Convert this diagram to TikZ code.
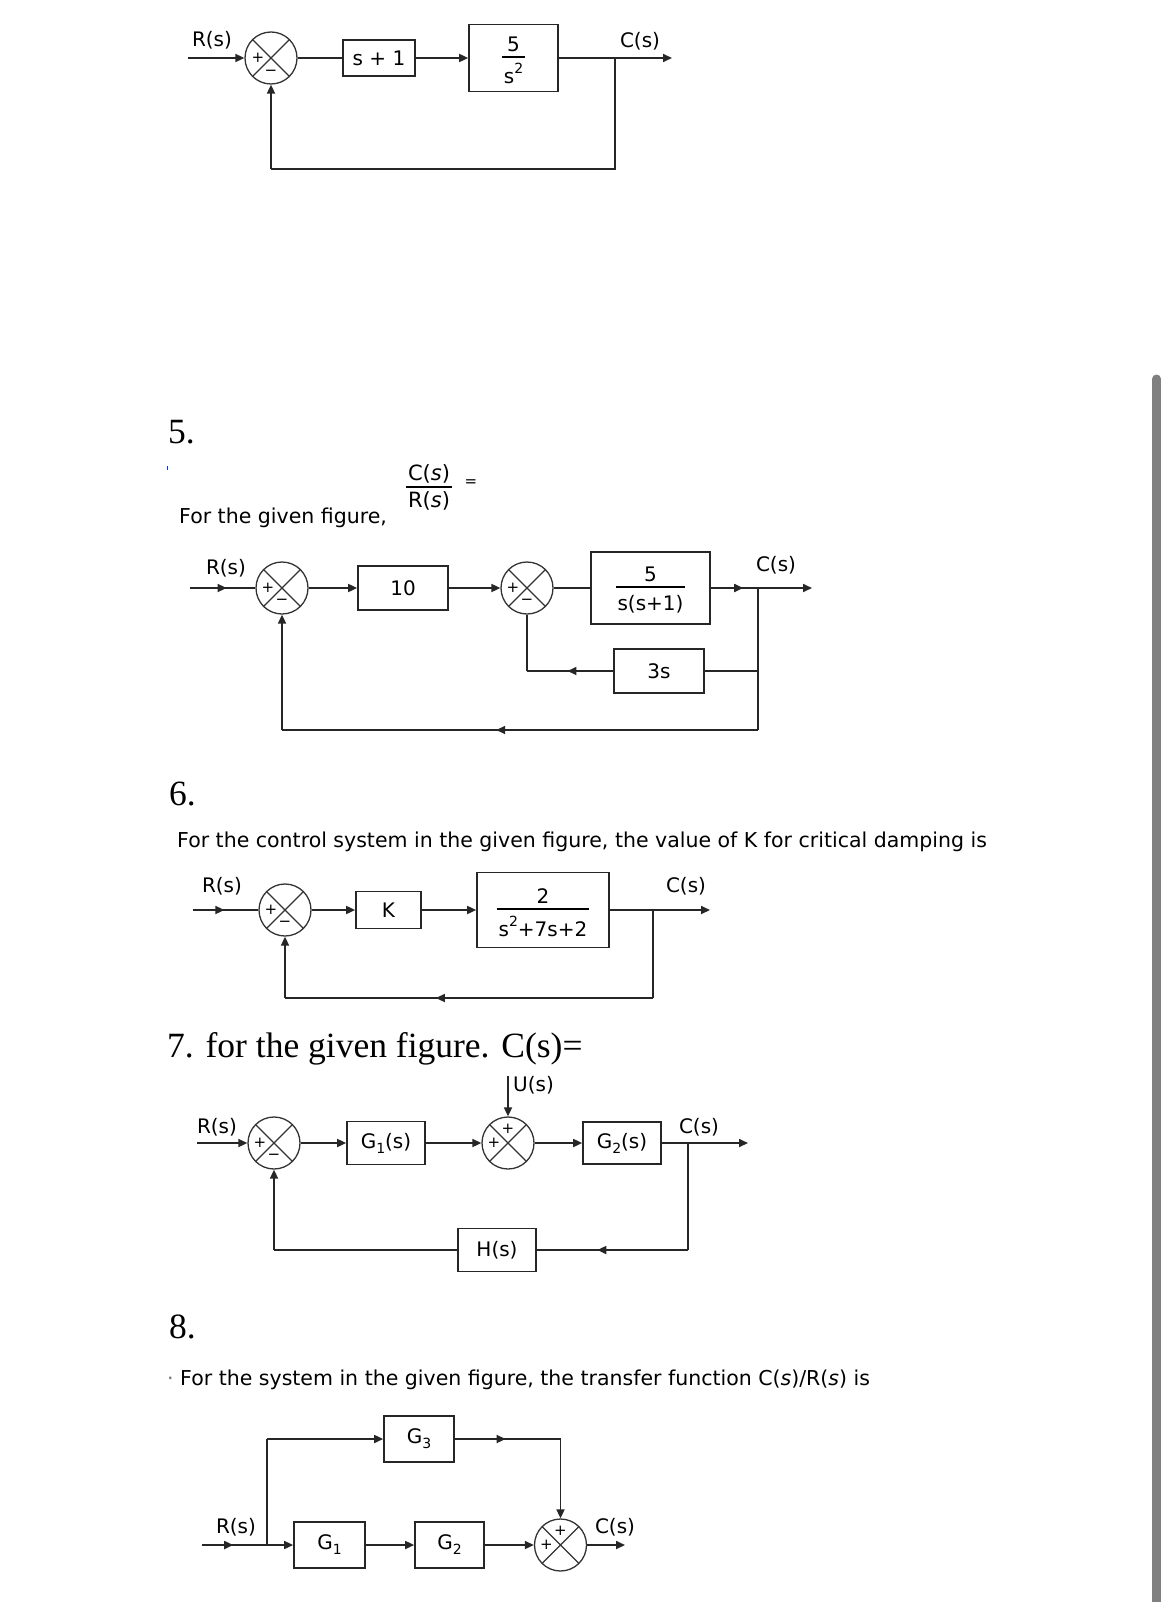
\documentclass[tikz,border=0pt]{standalone}
\usepackage{fontspec}
\setmainfont{DejaVu Sans}
\newfontfamily\headfont{Liberation Serif}
\usepackage{tikz}
\usetikzlibrary{arrows.meta, decorations.markings}
\setlength{\arrayrulewidth}{1.5pt}
\newcommand{\blkfrac}[3][24pt]{\begin{tabular}{@{\hspace{2pt}}c@{\hspace{2pt}}}\rule{0pt}{#1}#2\\[-2pt]\hline\rule{0pt}{#1}#3\end{tabular}}
\newcommand{\upidx}[1]{\raisebox{10pt}{\fontsize{14}{14}\selectfont #1}}
\newcommand{\lowidx}[1]{\raisebox{-5pt}{\fontsize{14}{14}\selectfont #1}}
\tikzset{
  wire/.style  = {line width=1.7pt, draw=black!85},
  ar/.style    = {wire, -{Triangle[length=9pt, width=8pt]}},
  midar/.style = {wire, postaction={decorate}, decoration={markings,
                  mark=at position #1 with {\arrow{Triangle[length=9pt, width=8pt]}}}},
  blk/.style   = {draw=black!85, rectangle, line width=1.7pt, inner sep=0pt,
                  font=\fontsize{20}{24}\selectfont},
  sumj/.style  = {draw=black!80, circle, minimum size=52pt, inner sep=0pt, line width=1.3pt,
                  path picture={\draw[line width=1.3pt, black!80]
                    (path picture bounding box.north west) -- (path picture bounding box.south east)
                    (path picture bounding box.north east) -- (path picture bounding box.south west);}},
  sgn/.style   = {font=\fontsize{15}{15}\selectfont, inner sep=0pt},
  lbl/.style   = {font=\fontsize{20}{24}\selectfont, inner sep=0pt},
  hd/.style    = {font=\headfont\fontsize{35.5}{40}\selectfont, anchor=base west, inner sep=0pt},
  txt/.style   = {font=\fontsize{20.5}{24}\selectfont, anchor=base west, inner sep=0pt},
}

\begin{document}
\begin{tikzpicture}[x=1pt, y=-1pt]
  \useasboundingbox[fill=white] (0,0) rectangle (1170,1602);
  % scroll bar
  \fill[black!50] (1152,1602) rectangle (1161,379);
  \fill[black!50] (1156.5,379) circle (4.5pt);

  % loop with s+1
  \node[lbl] (r1) at (212,40) {R(s)};
  \node[lbl] (c1) at (640,41) {C(s)};
  \coordinate (i1) at (188,58);
  \node[sumj] (s1) at (271,58) {};
  \node[sgn] (s1p) at ([xshift=-13pt]s1.center) {+};
  \node[sgn] (s1m) at ([yshift=-15pt]s1.center) {−};
  \node[blk, minimum width=72pt, minimum height=36pt] (b1a) at (379,58) {s + 1};
  \node[blk, minimum width=89pt, minimum height=67pt] (b1b) at (513.5,58) {\blkfrac[26pt]{5}{s\upidx{2}}};
  \coordinate (o1) at (672,58);
  \coordinate (k1a) at (615,58);
  \coordinate (k1b) at (615,169);
  \coordinate (k1c) at (271,169);
  \draw[ar] (i1) -- (s1);
  \draw[wire] (s1) -- (b1a);
  \draw[ar] (b1a) -- (b1b);
  \draw[ar] (b1b) -- (o1);
  \draw[wire] (k1a) -- (k1b) -- (k1c);
  \draw[ar] (k1c) -- (s1);

  % question 5
  \node[hd] (h5) at (168,443) {5.};
  \fill[blue!80!cyan] (166.5,466) rectangle (168,470);
  \node[txt] (t5) at (179,523) {For the given figure,};
  \node[inner sep=0pt, font=\fontsize{21}{25}\selectfont] (f5) at (429,488) {\blkfrac[20pt]{C(\textit{s})}{R(\textit{s})}};
  \node[sgn] (e5) at (471,483) {=};
  \node[lbl] (r5) at (226,568) {R(s)};
  \node[lbl] (c5) at (776,565) {C(s)};
  \coordinate (i5) at (190,588);
  \node[sumj] (s5a) at (282,588) {};
  \node[sgn] (s5ap) at ([xshift=-14pt]s5a.center) {+};
  \node[sgn] (s5am) at ([yshift=-14pt]s5a.center) {−};
  \node[blk, minimum width=90pt, minimum height=44pt] (b5a) at (403,588) {10};
  \node[sumj] (s5b) at (527,588) {};
  \node[sgn] (s5bp) at ([xshift=-14pt]s5b.center) {+};
  \node[sgn] (s5bm) at ([yshift=-14pt]s5b.center) {−};
  \node[blk, minimum width=119pt, minimum height=72pt] (b5b) at (650.5,588) {\blkfrac[23pt]{5}{s(s+1)}};
  \node[blk, minimum width=90pt, minimum height=44pt] (b5c) at (659,671) {3s};
  \coordinate (o5) at (812,588);
  \coordinate (k5a) at (758,588);
  \coordinate (k5b) at (758,671);
  \coordinate (k5c) at (758,730);
  \coordinate (k5d) at (282,730);
  \coordinate (k5e) at (527,671);
  \draw[midar=0.56] (i5) -- (s5a);
  \draw[ar] (s5a) -- (b5a);
  \draw[ar] (b5a) -- (s5b);
  \draw[wire] (s5b) -- (b5b);
  \draw[ar, midar=0.32] (b5b) -- (o5);
  \draw[wire] (k5a) -- (k5c);
  \draw[wire] (k5b) -- (b5c);
  \draw[midar=0.53] (b5c) -- (k5e);
  \draw[wire] (k5e) -- (s5b);
  \draw[midar=0.55] (k5c) -- (k5d);
  \draw[ar] (k5d) -- (s5a);

  % question 6
  \node[hd] (h6) at (169,805) {6.};
  \node[txt] (t6) at (177,847) {For the control system in the given figure, the value of K for critical damping is};
  \node[lbl] (r6) at (222,886) {R(s)};
  \node[lbl] (c6) at (686,886) {C(s)};
  \coordinate (i6) at (193,910);
  \node[sumj] (s6) at (285,910) {};
  \node[sgn] (s6p) at ([xshift=-14pt]s6.center) {+};
  \node[sgn] (s6m) at ([yshift=-14pt]s6.center) {−};
  \node[blk, minimum width=65pt, minimum height=37pt] (b6a) at (388.5,910) {K};
  \node[blk, minimum width=132pt, minimum height=75pt] (b6b) at (543,910) {\blkfrac[27pt]{2}{s\upidx{2}+7s+2}};
  \coordinate (o6) at (710,910);
  \coordinate (k6a) at (653,910);
  \coordinate (k6b) at (653,998);
  \coordinate (k6c) at (285,998);
  \draw[midar=0.48] (i6) -- (s6);
  \draw[ar] (s6) -- (b6a);
  \draw[ar] (b6a) -- (b6b);
  \draw[ar] (b6b) -- (o6);
  \draw[wire] (k6a) -- (k6b);
  \draw[midar=0.59] (k6b) -- (k6c);
  \draw[ar] (k6c) -- (s6);

  % question 7
  \node[hd] (h7) at (167,1057) {7. for the given figure. C(s)=};
  \node[lbl] (r7) at (217,1127) {R(s)};
  \node[lbl] (c7) at (699,1127) {C(s)};
  \node[lbl, anchor=west] (u7) at (513,1085) {U(s)};
  \coordinate (i7) at (197,1143);
  \node[sumj] (s7a) at (274,1143) {};
  \node[sgn] (s7ap) at ([xshift=-14pt]s7a.center) {+};
  \node[sgn] (s7am) at ([yshift=-14pt]s7a.center) {−};
  \node[blk, minimum width=78pt, minimum height=43pt] (b7a) at (386,1143) {G\lowidx{1}(s)};
  \node[sumj] (s7b) at (508,1143) {};
  \node[sgn] (s7bp) at ([xshift=-14pt]s7b.center) {+};
  \node[sgn] (s7bq) at ([yshift=14pt]s7b.center) {+};
  \node[blk, minimum width=78pt, minimum height=42pt] (b7b) at (622,1143) {G\lowidx{2}(s)};
  \node[blk, minimum width=78pt, minimum height=43pt] (b7c) at (497,1250) {H(s)};
  \coordinate (q7) at (508,1076);
  \coordinate (o7) at (748,1143);
  \coordinate (k7a) at (688,1143);
  \coordinate (k7b) at (688,1250);
  \coordinate (k7c) at (274,1250);
  \draw[ar] (q7) -- (s7b);
  \draw[ar] (i7) -- (s7a);
  \draw[ar] (s7a) -- (b7a);
  \draw[ar] (b7a) -- (s7b);
  \draw[ar] (s7b) -- (b7b);
  \draw[ar] (b7b) -- (o7);
  \draw[wire] (k7a) -- (k7b);
  \draw[midar=0.6] (k7b) -- (b7c);
  \draw[wire] (b7c) -- (k7c);
  \draw[ar] (k7c) -- (s7a);

  % question 8
  \node[hd] (h8) at (169,1338) {8.};
  \node[txt] (t8) at (167,1385) {{\color{black!55}·} For the system in the given figure, the transfer function C(\textit{s})/R(\textit{s}) is};
  \node[lbl] (r8) at (236,1527) {R(s)};
  \node[lbl] (c8) at (615,1527) {C(s)};
  \coordinate (i8) at (202,1545);
  \coordinate (k8a) at (267,1545);
  \coordinate (k8b) at (267,1439);
  \coordinate (k8c) at (560.5,1439);
  \node[blk, minimum width=71pt, minimum height=46pt] (b8a) at (329.5,1545) {G\lowidx{1}};
  \node[blk, minimum width=69pt, minimum height=46pt] (b8b) at (449.5,1545) {G\lowidx{2}};
  \node[blk, minimum width=70pt, minimum height=46pt] (b8c) at (419,1439) {G\lowidx{3}};
  \node[sumj] (s8) at (560.5,1545) {};
  \node[sgn] (s8p) at ([xshift=-14pt]s8.center) {+};
  \node[sgn] (s8q) at ([yshift=14pt]s8.center) {+};
  \coordinate (o8) at (625,1545);
  \draw[midar=0.48] (i8) -- (k8a);
  \draw[ar] (k8a) -- (b8a);
  \draw[ar] (b8a) -- (b8b);
  \draw[ar] (b8b) -- (s8);
  \draw[ar] (s8) -- (o8);
  \draw[wire] (k8a) -- (k8b);
  \draw[ar] (k8b) -- (b8c);
  \draw[midar=0.48] (b8c) -- (k8c);
  \draw[ar] (k8c) -- (s8);
\end{tikzpicture}
\end{document}
